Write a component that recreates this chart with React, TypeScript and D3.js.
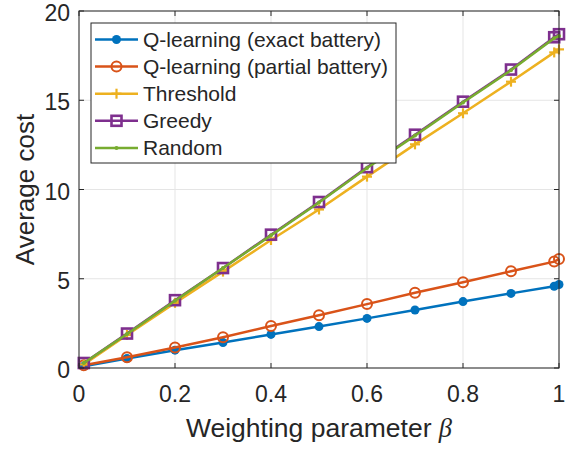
import React from "react";
import * as d3 from "d3";

const betas = [0.01, 0.1, 0.2, 0.3, 0.4, 0.5, 0.6, 0.7, 0.8, 0.9, 0.99, 1];
const qExact = [0.1, 0.53, 1.0, 1.43, 1.88, 2.32, 2.78, 3.25, 3.72, 4.18, 4.58, 4.68];
const qPartial = [0.15, 0.6, 1.15, 1.72, 2.35, 2.95, 3.58, 4.22, 4.8, 5.42, 5.96, 6.1];
const threshold = [0.2, 1.85, 3.65, 5.4, 7.17, 8.88, 10.72, 12.53, 14.27, 16.04, 17.68, 17.85];
const greedy = [0.28, 1.93, 3.8, 5.6, 7.47, 9.3, 11.25, 13.07, 14.92, 16.72, 18.53, 18.7];
const randomPolicy = [0.28, 1.9, 3.77, 5.6, 7.43, 9.27, 11.2, 13.02, 14.87, 16.68, 18.48, 18.6];

const seriesNames = [
  "Q-learning (exact battery)",
  "Q-learning (partial battery)",
  "Threshold",
  "Greedy",
  "Random",
];
const seriesColors = ["#0072BD", "#D95319", "#EDB120", "#7E2F8E", "#77AC30"];
const seriesMarkers = ["dot", "circle", "plus", "square", "point"];
const seriesValues = [qExact, qPartial, threshold, greedy, randomPolicy];

const xTicks = [0, 0.2, 0.4, 0.6, 0.8, 1];
const yTicks = [0, 5, 10, 15, 20];

const W = 577;
const H = 450;
const left = 79;
const right = 559;
const top = 11;
const bottom = 368;

const FONT = "Arial, 'Liberation Sans', Helvetica, sans-serif";
const TEXT = "#262626";

function Marker({ kind, x, y, color }: { kind: string; x: number; y: number; color: string }) {
  if (kind === "dot") return <circle cx={x} cy={y} r={4.5} fill={color} />;
  if (kind === "circle")
    return <circle cx={x} cy={y} r={5} fill="none" stroke={color} strokeWidth={2} />;
  if (kind === "plus")
    return (
      <g stroke={color} strokeWidth={2.2}>
        <line x1={x - 5} y1={y} x2={x + 5} y2={y} />
        <line x1={x} y1={y - 5} x2={x} y2={y + 5} />
      </g>
    );
  if (kind === "square")
    return (
      <rect x={x - 5} y={y - 5} width={10} height={10} fill="none" stroke={color} strokeWidth={2.6} />
    );
  return <circle cx={x} cy={y} r={2} fill={color} />;
}

export default function App() {
  const xs = d3.scaleLinear().domain([0, 1]).range([left, right]);
  const ys = d3.scaleLinear().domain([0, 20]).range([bottom, top]);
  const line = d3
    .line<number>()
    .x((_, i) => xs(betas[i]))
    .y((d) => ys(d));

  const tickLen = 5;
  const legX = 91;
  const legY = 23;
  const legW = 305;
  const legH = 140;
  const rowH = 27.1;

  return (
    <svg
      width={W}
      height={H}
      style={{ position: "absolute", left: 0, top: 0, background: "#fff" }}
      fontFamily={FONT}
    >
      <rect x={0} y={0} width={W} height={H} fill="#fff" />
      {/* grid */}
      <g stroke="#e5e5e5" strokeWidth={1}>
        {xTicks.map((t) => (
          <line key={"gx" + t} x1={xs(t)} x2={xs(t)} y1={top} y2={bottom} />
        ))}
        {yTicks.map((t) => (
          <line key={"gy" + t} x1={left} x2={right} y1={ys(t)} y2={ys(t)} />
        ))}
      </g>
      {/* series */}
      {seriesValues.map((vals, si) => (
        <g key={"s" + si}>
          <path d={line(vals) || ""} fill="none" stroke={seriesColors[si]} strokeWidth={2.5} />
          {vals.map((v, i) => (
            <Marker key={i} kind={seriesMarkers[si]} x={xs(betas[i])} y={ys(v)} color={seriesColors[si]} />
          ))}
        </g>
      ))}
      {/* box & ticks */}
      <rect x={left} y={top} width={right - left} height={bottom - top} fill="none" stroke="#262626" strokeWidth={1} />
      <g stroke="#262626" strokeWidth={1}>
        {xTicks.map((t) => (
          <g key={"tx" + t}>
            <line x1={xs(t)} x2={xs(t)} y1={bottom} y2={bottom - tickLen} />
            <line x1={xs(t)} x2={xs(t)} y1={top} y2={top + tickLen} />
          </g>
        ))}
        {yTicks.map((t) => (
          <g key={"ty" + t}>
            <line x1={left} x2={left + tickLen} y1={ys(t)} y2={ys(t)} />
            <line x1={right} x2={right - tickLen} y1={ys(t)} y2={ys(t)} />
          </g>
        ))}
      </g>
      {/* tick labels */}
      <g fill={TEXT} fontSize={23}>
        {xTicks.map((t) => (
          <text key={"lx" + t} x={xs(t)} y={401.5} textAnchor="middle">
            {String(t)}
          </text>
        ))}
        {yTicks.map((t) => (
          <text key={"ly" + t} x={70} y={ys(t) + 10} textAnchor="end">
            {String(t)}
          </text>
        ))}
      </g>
      {/* axis labels */}
      <text x={(left + right) / 2} y={437} textAnchor="middle" fontSize={26.5} fill={TEXT}>
        Weighting parameter{" "}
        <tspan fontStyle="italic" fontFamily="'Liberation Serif', 'DejaVu Serif', serif">
          β
        </tspan>
      </text>
      <text
        transform={`translate(34, ${(top + bottom) / 2}) rotate(-90)`}
        textAnchor="middle"
        fontSize={26}
        fill={TEXT}
      >
        Average cost
      </text>
      {/* legend */}
      <rect x={legX} y={legY} width={legW} height={legH} fill="#fff" stroke="#262626" strokeWidth={1} />
      {seriesNames.map((name, i) => {
        const cy = legY + 16.5 + i * rowH;
        return (
          <g key={"leg" + i}>
            <line x1={95} x2={138} y1={cy} y2={cy} stroke={seriesColors[i]} strokeWidth={2.5} />
            <Marker kind={seriesMarkers[i]} x={116.5} y={cy} color={seriesColors[i]} />
            <text x={143} y={cy + 7.5} fontSize={21} fill={TEXT}>
              {name}
            </text>
          </g>
        );
      })}
    </svg>
  );
}
